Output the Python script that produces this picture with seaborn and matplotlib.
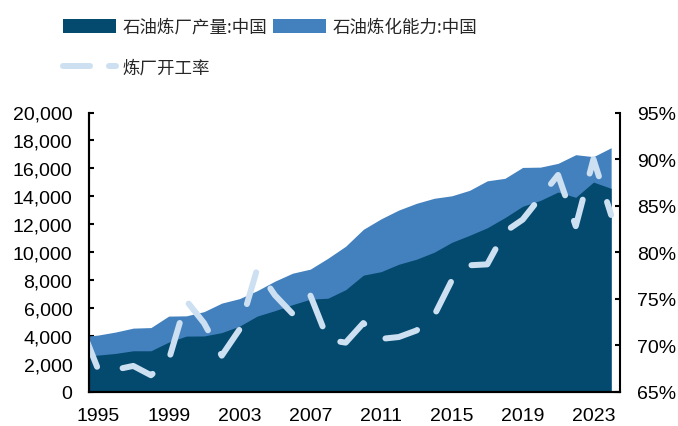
import matplotlib
matplotlib.use("Agg")
import matplotlib.pyplot as plt
import seaborn as sns
import pandas as pd
from matplotlib.patches import Patch
from matplotlib.lines import Line2D
from matplotlib.ticker import FuncFormatter

# 数据（1994 年只用来画出左边缘，会被坐标轴裁掉）
years = list(range(1994, 2025))
refinery_output = [2540, 2640, 2760, 2950, 2950, 3570, 4000, 4010, 4250, 4710,
                   5430, 5820, 6250, 6640, 6710, 7320, 8360, 8610, 9140, 9500,
                   10000, 10710, 11210, 11750, 12480, 13290, 13710, 14310, 13930, 15020,
                   14570]
refinery_capacity = [3960, 4070, 4290, 4570, 4610, 5430, 5450, 5750, 6360, 6680,
                     7250, 7930, 8500, 8790, 9570, 10430, 11640, 12390, 13020, 13500,
                     13860, 14040, 14430, 15110, 15290, 16070, 16090, 16360, 16980, 16840,
                     17480]
utilization = [72.3, 67.5, 67.4, 67.8, 66.8, 68.4, 74.8, 72.4, 68.9, 71.7,
               78.2, 75.4, 73.4, 75.4, 70.6, 70.3, 72.4, 70.7, 70.9, 71.6,
               73.2, 77.0, 78.6, 78.7, 82.2, 83.5, 85.9, 88.3, 82.8, 90.0,
               84.0]
label_years = [1995, 1999, 2003, 2007, 2011, 2015, 2019, 2023]

DARK = "#034A6E"
MID = "#4381BE"
LIGHT = "#CCE0F2"
PX = 72 / 100  # 像素 -> 磅

sns.set_theme(style="ticks")
plt.rcParams["font.family"] = ["Liberation Sans", "Noto Sans CJK SC"]
plt.rcParams["lines.scale_dashes"] = False

df = pd.DataFrame({
    "year": years,
    "output": refinery_output,
    "capacity": refinery_capacity,
    "rate": utilization,
})
df["pos"] = df["year"] - label_years[0]

fig = plt.figure(figsize=(6.78, 4.27), dpi=100)
ax = fig.add_axes([89 / 678, 1 - 393 / 427, (620 - 89) / 678, (393 - 113.5) / 427])

# 面积：能力在后，产量在前
ax.fill_between(df["pos"], df["capacity"], color=MID, lw=0)
ax.fill_between(df["pos"], df["output"], color=DARK, lw=0)
ax.set_xlim(-0.5, 29.5)
ax.set_ylim(0, 20000)
ax.set_yticks(range(0, 20001, 2000))
ax.yaxis.set_major_formatter(FuncFormatter(lambda v, _: f"{v:,.0f}"))

# x 轴：标签在年份中心，刻度线在类别之间
ax.set_xticks([y - label_years[0] for y in label_years])
ax.set_xticklabels([str(y) for y in label_years])
ax.set_xticks([y - label_years[0] - 0.5 for y in label_years[1:]], minor=True)
ax.tick_params(axis="x", which="major", length=0, pad=11, labelsize=14, colors="black")
ax.tick_params(axis="x", which="minor", direction="in", length=3.6, width=1.5, color="black")
ax.tick_params(axis="y", direction="in", length=3.6, width=1.5, pad=12, labelsize=14,
               colors="black")

# 开工率：右轴
ax2 = ax.twinx()
sns.lineplot(data=df, x="pos", y="rate", ax=ax2, color=LIGHT, lw=6 * PX,
             linestyle=(47 * PX, (33 * PX, 27 * PX)), dash_capstyle="round")
ax2.set_ylim(65, 95)
ax2.set_yticks(range(65, 96, 5))
ax2.yaxis.set_major_formatter(FuncFormatter(lambda v, _: f"{v:.0f}%"))
ax2.tick_params(axis="y", direction="in", length=3.6, width=1.5, pad=12, labelsize=14,
                colors="black")
ax.set_xlabel("")
ax.set_ylabel("")
ax2.set_ylabel("")

for a in (ax, ax2):
    a.spines["top"].set_visible(False)
    for s in ("left", "right", "bottom"):
        a.spines[s].set_linewidth(1.5)
        a.spines[s].set_color("black")
ax.spines["right"].set_visible(False)

handles = [
    Patch(facecolor=DARK, edgecolor="none", label="石油炼厂产量:中国"),
    Line2D([], [], color=LIGHT, lw=6 * PX, linestyle=(0, (27 * PX, 19 * PX)),
           dash_capstyle="round", label="炼厂开工率"),
    Patch(facecolor=MID, edgecolor="none", label="石油炼化能力:中国"),
]
fig.legend(handles=handles, ncol=2, loc="upper left",
           bbox_to_anchor=(63 / 678, 1 - 19 / 427), frameon=False,
           prop={"family": "Noto Sans CJK SC", "size": 12.6},
           handlelength=3.0, handleheight=0.8, handletextpad=0.4,
           columnspacing=0.35, labelspacing=1.3, borderpad=0, borderaxespad=0)

fig.savefig("out.png", dpi=100)
plt.close(fig)
